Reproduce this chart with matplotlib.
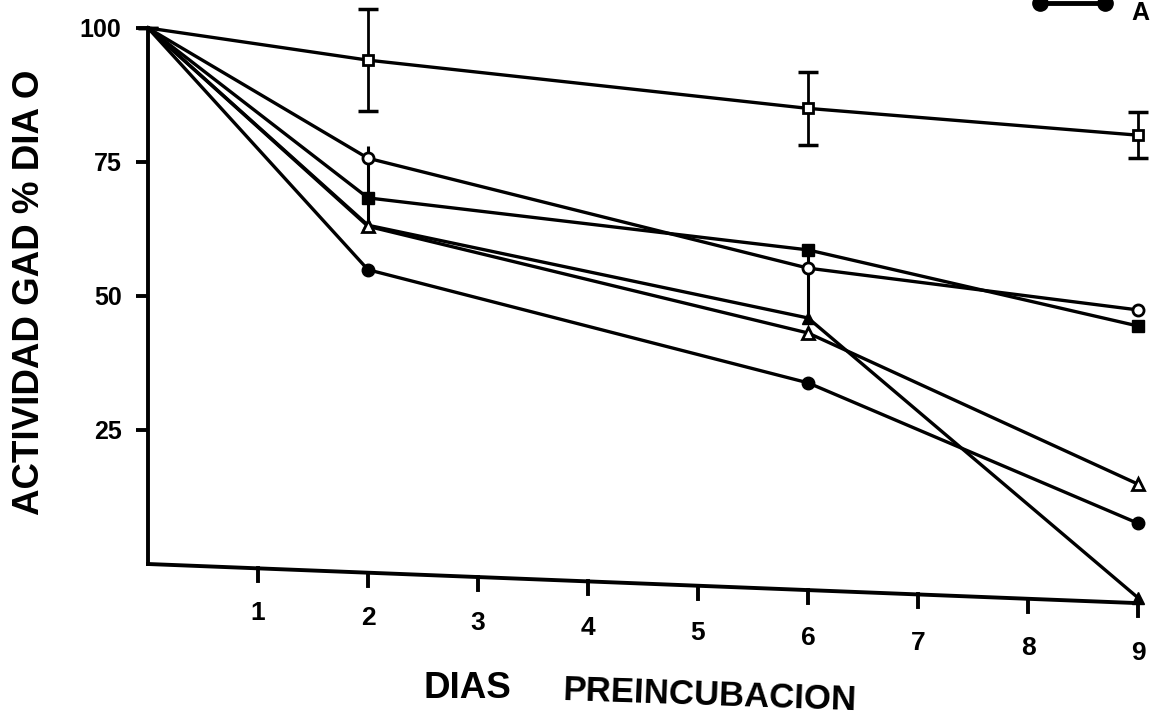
import numpy as np
import matplotlib.pyplot as plt
from matplotlib.lines import Line2D

# days of preincubation and GAD activity (% of day 0)
days = [0, 2, 6, 9]
open_sq = [100, 94.0, 85.0, 80.0]
open_sq_err = [0, 9.5, 6.8, 4.3]
open_circ = [100, 75.7, 55.2, 47.4]
open_circ_lo = [0, 12.5, 9.3, 0]
open_circ_hi = [0, 2.3, 3.0, 0]
filled_sq = [100, 68.3, 58.6, 44.4]
filled_tri = [100, 63.2, 45.9, -6.3]
open_tri = [100, 63.0, 43.1, 14.9]
filled_circ = [100, 54.9, 33.8, 7.6]

xtick_days = list(range(1, 10))
ytick_vals = [25, 50, 75, 100]
ytick_labels = ["25", "50", "75", "100"]
axis_drop = 7.3   # the scanned x axis slopes down to the right

plt.rcParams['font.family'] = ['Liberation Sans', 'DejaVu Sans']

fig = plt.figure(figsize=(11.56, 7.23), dpi=100)
ax = fig.add_axes([148 / 1156, 0.1606, 990 / 1156, 0.8007])
ax.set_xlim(0, 9)
ax.set_ylim(-8, 100)

lw = 2.4
kw = dict(color='black', lw=lw, clip_on=False, markevery=[1, 2, 3], zorder=3)
ax.errorbar(days, open_sq, yerr=open_sq_err, fmt='none', ecolor='black',
            elinewidth=2, capsize=7, capthick=2.5, clip_on=False)
ax.errorbar(days, open_circ, yerr=[open_circ_lo, open_circ_hi], fmt='none',
            ecolor='black', elinewidth=2.2, capsize=0, clip_on=False)
ax.plot(days, open_sq, marker='s', ms=7, mfc='white', mec='black', mew=2, **kw)
ax.plot(days, open_circ, marker='o', ms=8, mfc='white', mec='black', mew=2, **kw)
ax.plot(days, filled_sq, marker='s', ms=8, mfc='black', mec='black', **kw)
ax.plot(days, filled_tri, marker='^', ms=8, mfc='black', mec='black', **kw)
ax.plot(days, open_tri, marker='^', ms=8, mfc='white', mec='black', mew=2, **kw)
ax.plot(days, filled_circ, marker='o', ms=9, mfc='black', mec='black', **kw)

# y axis
for s in ['top', 'right', 'bottom']:
    ax.spines[s].set_visible(False)
ax.spines['left'].set_bounds(0, 100)
ax.spines['left'].set_linewidth(2.8)
ax.set_yticks(ytick_vals)
ax.set_yticklabels(ytick_labels, fontsize=18, fontweight='bold')
ax.tick_params(axis='y', direction='out', length=9, width=2.8, pad=10)
ax.set_xticks([])

# sloped x axis, drawn by hand
def axis_y(d):
    return -axis_drop * d / 9

ax.plot([0, 9], [axis_y(0), axis_y(9)], color='black', lw=2.8, clip_on=False)
for d in xtick_days:
    ax.plot([d, d], [axis_y(d), axis_y(d) - 2.4], color='black', lw=2.8,
            clip_on=False)
    ax.text(d, axis_y(d) - 8.3 - 0.12 * d, str(d), ha='center', va='center',
            fontsize=19, fontweight='bold')

fig.text(30 / 1156, 1 - 292 / 723, "ACTIVIDAD GAD % DIA O", rotation=90,
         ha='center', va='center', fontsize=26.5, fontweight='bold')
fig.text(467 / 1156, 1 - 688 / 723, "DIAS", ha='center', va='center',
         fontsize=26.5, fontweight='bold')
fig.text(710 / 1156, 1 - 696 / 723, "PREINCUBACION", ha='center', va='center',
         fontsize=25, fontweight='bold', rotation=-2)

# legend entry at the top right, cut by the page edge in the scan
fig.add_artist(Line2D([1040 / 1156, 1105 / 1156], [1 - 3 / 723, 1 - 3 / 723],
                      transform=fig.transFigure, color='black', lw=3.5,
                      marker='o', ms=11))
fig.text(1140 / 1156, 1 - 1 / 723, "A", ha='center', va='top', fontsize=18,
         fontweight='bold')

fig.savefig("out.png", dpi=100)
